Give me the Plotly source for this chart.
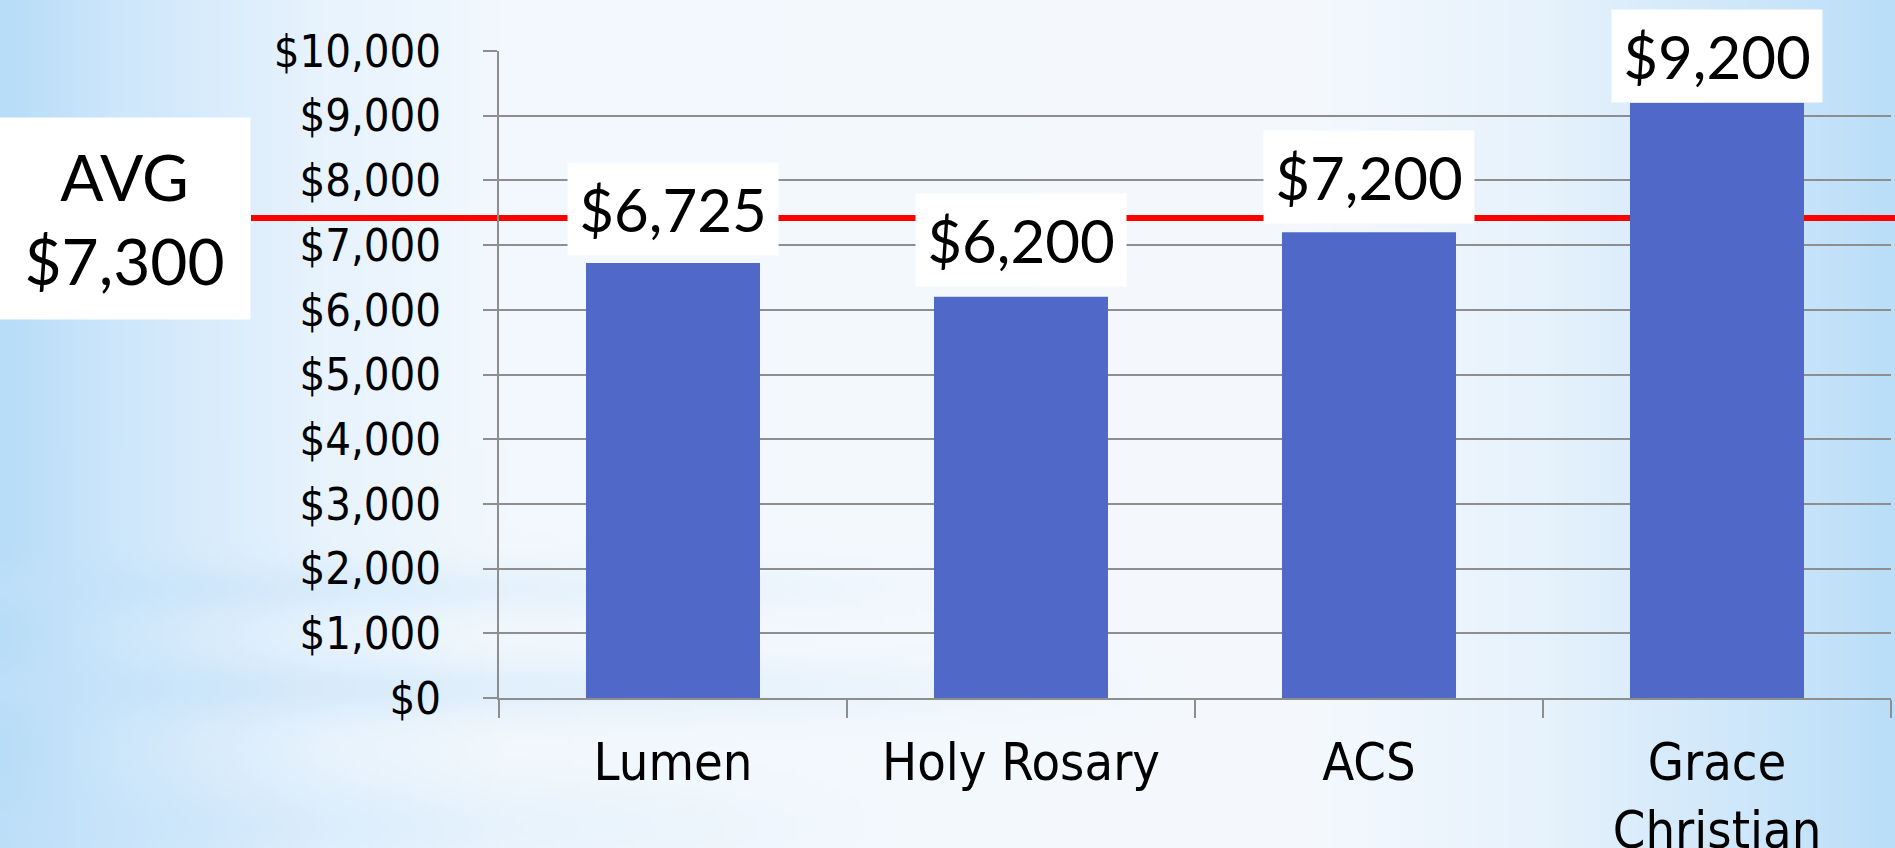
import base64
import struct
import zlib

import numpy as np
import plotly.graph_objects as go

# ---------------- data ----------------
categories = ["Lumen", "Holy Rosary", "ACS", "Grace Christian"]
tick_labels = ["Lumen", "Holy Rosary", "ACS", "Grace<br>Christian"]
values = [6725, 6200, 7200, 9200]
value_labels = ["$6,725", "$6,200", "$7,200", "$9,200"]
avg_label = "AVG<br>$7,300"
avg_line_value = 7420
y_tick_values = [0, 1000, 2000, 3000, 4000, 5000, 6000, 7000, 8000, 9000, 10000]
y_tick_labels = ["$0", "$1,000", "$2,000", "$3,000", "$4,000", "$5,000",
                 "$6,000", "$7,000", "$8,000", "$9,000", "$10,000"]

# ---------------- layout constants ----------------
W, H = 1895, 848
ML, MR, MT, MB = 499, 4, 51, 150
PW, PH = W - ML - MR, H - MT - MB
label_offsets = [7, 10, 8, 0]

GRID = "#8e8e8e"
BAR = "#5068c8"
AXIS_FONT = "DejaVu Sans Condensed, Liberation Sans Narrow, DejaVu Sans, sans-serif"
LABEL_FONT = "Lato, Open Sans, sans-serif"


# ---------------- background gradient image ----------------
def to_png(arr):
    h, w, _ = arr.shape
    raw = b"".join(b"\x00" + arr[i].tobytes() for i in range(h))

    def chunk(t, d):
        c = struct.pack(">I", len(d)) + t + d
        return c + struct.pack(">I", zlib.crc32(t + d) & 0xFFFFFFFF)

    png = (b"\x89PNG\r\n\x1a\n"
           + chunk(b"IHDR", struct.pack(">IIBBBBB", w, h, 8, 2, 0, 0, 0))
           + chunk(b"IDAT", zlib.compress(raw, 9))
           + chunk(b"IEND", b""))
    return "data:image/png;base64," + base64.b64encode(png).decode()


def background():
    w, h = 380, 170
    xs = np.linspace(0, W, w)
    ys = np.linspace(0, H, h)
    kx = [0, 120, 320, 500, 1300, 1550, 1750, 1895]
    kc = np.array([[184, 221, 248], [206, 231, 251], [232, 243, 253],
                   [242, 248, 253], [245, 249, 254], [230, 242, 252],
                   [206, 231, 250], [186, 222, 248]], dtype=float)
    row = np.stack([np.interp(xs, kx, kc[:, i]) for i in range(3)], axis=1)
    img = np.repeat(row[None, :, :], h, axis=0)
    band_c = np.array([194, 225, 250], dtype=float)
    for yc, sig, amp, xr in [(590, 25, 0.55, 1000), (690, 30, 0.6, 1200), (830, 45, 0.5, 900)]:
        wy = amp * np.exp(-((ys - yc) / sig) ** 2)
        wx = np.clip(1 - xs / xr, 0, 1)
        wgt = (wy[:, None] * wx[None, :])[..., None]
        img = img * (1 - wgt) + band_c * wgt
    return to_png(np.ascontiguousarray(np.clip(img, 0, 255).astype(np.uint8)))


fig = go.Figure()
fig.add_trace(go.Bar(
    x=categories, y=values, width=0.5,
    marker=dict(color=BAR, line=dict(width=0)),
    hoverinfo="skip", showlegend=False,
))

# value label boxes
for cat, val, lab, off in zip(categories, values, value_labels, label_offsets):
    fig.add_annotation(
        x=cat, y=val, xref="x", yref="y", text=lab, showarrow=False,
        xanchor="center", yanchor="bottom", yshift=off,
        font=dict(family=LABEL_FONT, size=60, color="black"),
        bgcolor="white", borderpad=10, width=190, height=72,
    )

# average label box
fig.add_annotation(
    x=0, y=avg_line_value, xref="paper", yref="y", text=avg_label,
    showarrow=False, xanchor="right", yanchor="middle", xshift=-(ML - 251),
    yshift=-1, font=dict(family=LABEL_FONT, size=64, color="black"),
    bgcolor="white", borderpad=0, width=251, height=201, align="center",
)

# average line
fig.add_shape(
    type="line", xref="paper", yref="y",
    x0=(251 - ML) / PW, x1=(W - ML + 10) / PW,
    y0=avg_line_value, y1=avg_line_value,
    line=dict(color="#ff0000", width=6), layer="below",
)

fig.add_layout_image(dict(
    source=background(), xref="paper", yref="paper",
    x=-ML / PW, y=1 + MT / PH, sizex=W / PW, sizey=H / PH,
    sizing="stretch", xanchor="left", yanchor="top", layer="below",
))

fig.update_layout(
    width=W, height=H, autosize=False,
    margin=dict(l=ML, r=MR, t=MT, b=MB, pad=0, autoexpand=False),
    paper_bgcolor="white", plot_bgcolor="rgba(0,0,0,0)",
    bargap=0.5,
    xaxis=dict(
        type="category", tickmode="array", tickvals=categories, ticktext=tick_labels,
        tickson="boundaries", ticks="outside", ticklen=18, tickwidth=2, tickcolor=GRID,
        showline=True, linecolor=GRID, linewidth=2, showgrid=False, automargin=False,
        tickfont=dict(family=AXIS_FONT, size=52, color="black"),
        ticklabelstandoff=18, fixedrange=True,
    ),
    yaxis=dict(
        range=[0, 10000], tickmode="array", tickvals=y_tick_values, ticktext=y_tick_labels,
        ticks="outside", ticklen=14, tickwidth=2, tickcolor=GRID,
        showline=True, linecolor=GRID, linewidth=2, automargin=False,
        showgrid=True, gridcolor=GRID, gridwidth=2, zeroline=False,
        tickfont=dict(family=AXIS_FONT, size=45, color="black"),
        ticklabelstandoff=33, fixedrange=True,
    ),
)

fig.write_html(
    "out.html",
    config={"displayModeBar": False},
    post_script="document.body.style.margin='0';document.body.style.overflow='hidden';",
)
